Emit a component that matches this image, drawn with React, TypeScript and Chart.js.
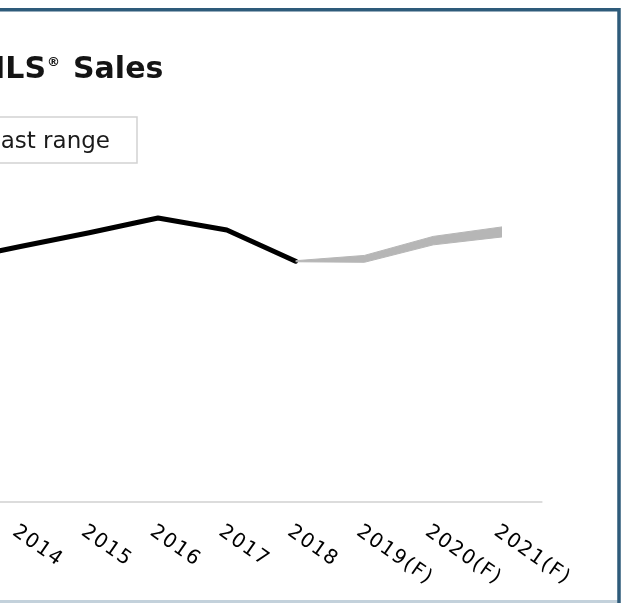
import React, { useEffect, useRef } from 'react';
import { Chart, registerables } from 'chart.js';

Chart.register(...registerables);

// ---- data (thousands of units) ----
const categories = ['2013', '2014', '2015', '2016', '2017', '2018', '2019(F)', '2020(F)', '2021(F)'];
const actualSales = [457, 484, 510, 538, 515, 456, null, null, null];
const forecastLow = [null, null, null, null, null, 455, 454, 487, 502];
const forecastHigh = [null, null, null, null, null, 457, 467, 503, 521];
const titleMain = 'MLS';
const titleMark = '®';
const titleRest = 'Sales';
const legendText = 'Forecast range';

// the reference is a crop: the left part of the chart lies outside the view
const HIDDEN = 130;
const W = 628 + HIDDEN;
const H = 603;

const decorPlugin = {
  id: 'decor',
  beforeDraw(chart: any) {
    const ctx = chart.ctx;
    ctx.save();
    ctx.fillStyle = '#ffffff';
    ctx.fillRect(0, 0, W, H);
    // frame
    ctx.fillStyle = '#c3d1db';
    ctx.fillRect(0, 600, HIDDEN + 619, 3);
    ctx.strokeStyle = '#2e5b7a';
    ctx.lineWidth = 3.5;
    ctx.beginPath();
    ctx.moveTo(0, 9.7);
    ctx.lineTo(HIDDEN + 619, 9.7);
    ctx.lineTo(HIDDEN + 619, H);
    ctx.stroke();
    // title
    ctx.fillStyle = '#141414';
    ctx.textBaseline = 'alphabetic';
    ctx.font = 'bold 30px "DejaVu Sans"';
    ctx.textAlign = 'right';
    ctx.fillText(titleMain, HIDDEN + 46, 78);
    ctx.textAlign = 'left';
    ctx.fillText(titleRest, HIDDEN + 73, 78);
    ctx.font = 'bold 13px "DejaVu Sans"';
    ctx.fillText(titleMark, HIDDEN + 47, 66);
    // legend box
    ctx.strokeStyle = '#d2d2d2';
    ctx.lineWidth = 1.5;
    ctx.strokeRect(4, 117, HIDDEN + 137 - 4, 46);
    ctx.font = '23px "DejaVu Sans"';
    ctx.fillStyle = '#1a1a1a';
    ctx.textAlign = 'right';
    ctx.fillText(legendText, HIDDEN + 110, 148);
    ctx.restore();
  },
  beforeDatasetsDraw(chart: any) {
    const ctx = chart.ctx;
    const y0 = chart.scales.y.getPixelForValue(0);
    ctx.save();
    ctx.strokeStyle = '#dcdcdc';
    ctx.lineWidth = 2;
    ctx.beginPath();
    ctx.moveTo(chart.chartArea.left, y0);
    ctx.lineTo(chart.chartArea.right + 6, y0);
    ctx.stroke();
    ctx.restore();
  },
  afterDraw(chart: any) {
    const ctx = chart.ctx;
    const xs = chart.scales.x;
    const y0 = chart.scales.y.getPixelForValue(0);
    ctx.save();
    ctx.font = '20px "DejaVu Sans"';
    (ctx as any).letterSpacing = '1.5px';
    ctx.fillStyle = '#000000';
    ctx.textAlign = 'left';
    ctx.textBaseline = 'alphabetic';
    categories.forEach((c, i) => {
      const px = xs.getPixelForValue(i) - 9;
      ctx.save();
      ctx.translate(px, y0 + 32);
      ctx.rotate((35 * Math.PI) / 180);
      ctx.fillText(c, 0, 0);
      ctx.restore();
    });
    ctx.restore();
  },
};

export default function App() {
  const ref = useRef<HTMLCanvasElement | null>(null);

  useEffect(() => {
    document.body.style.margin = '0';
    if (!ref.current) return;
    const chart = new Chart(ref.current, {
      type: 'line',
      data: {
        labels: categories,
        datasets: [
          {
            label: 'Forecast low',
            data: forecastLow,
            borderColor: '#b6b6b6',
            borderWidth: 1,
            pointRadius: 0,
            fill: false,
            tension: 0,
          },
          {
            label: legendText,
            data: forecastHigh,
            borderColor: '#b6b6b6',
            borderWidth: 1,
            backgroundColor: '#b6b6b6',
            pointRadius: 0,
            fill: '-1',
            tension: 0,
          },
          {
            label: 'MLS Sales',
            data: actualSales,
            borderColor: '#000000',
            borderWidth: 5,
            pointRadius: 0,
            fill: false,
            tension: 0,
            borderCapStyle: 'round',
            borderJoinStyle: 'round',
          },
        ],
      },
      options: {
        animation: false,
        responsive: false,
        devicePixelRatio: 1,
        layout: { padding: { left: 47.2, right: 91.6, top: 185.2, bottom: 101 } },
        plugins: {
          legend: { display: false },
          tooltip: { enabled: false },
          title: { display: false },
        },
        scales: {
          x: { display: false, offset: true },
          y: { display: false, min: 0, max: 600 },
        },
      },
      plugins: [decorPlugin],
    } as any);
    return () => chart.destroy();
  }, []);

  return (
    <div style={{ position: 'relative', width: 628, height: 603, overflow: 'hidden' }}>
      <canvas
        ref={ref}
        width={W}
        height={H}
        style={{ position: 'absolute', left: -HIDDEN, top: 0, width: W, height: H }}
      />
    </div>
  );
}
